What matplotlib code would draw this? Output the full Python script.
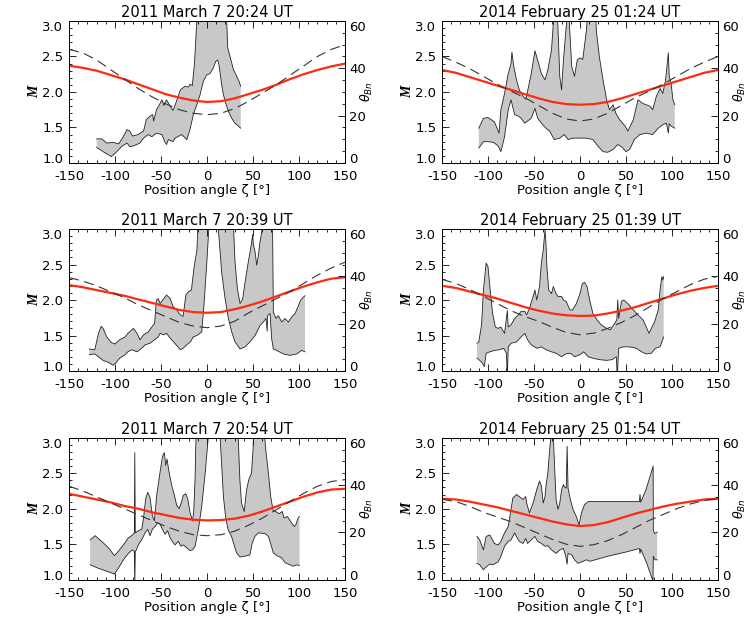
import numpy as np
import matplotlib
matplotlib.use("Agg")
import matplotlib.pyplot as plt
from matplotlib.ticker import MultipleLocator

plt.rcParams['axes.unicode_minus'] = False

# position angle grid of the model curves (deg)
zeta_grid = [-150, -135, -120, -105, -90, -75, -60, -45, -30, -15, 0,
             15, 30, 45, 60, 75, 90, 105, 120, 135, 150]

titles = ["2011 March 7 20:24 UT", "2014 February 25 01:24 UT",
          "2011 March 7 20:39 UT", "2014 February 25 01:39 UT",
          "2011 March 7 20:54 UT", "2014 February 25 01:54 UT"]

# ---- 2011 March 7 20:24 ----
p1_red = [2.37, 2.34, 2.30, 2.24, 2.18, 2.11, 2.04, 1.97, 1.92, 1.88, 1.86,
          1.87, 1.91, 1.97, 2.03, 2.10, 2.18, 2.25, 2.31, 2.36, 2.40]
p1_theta = [48, 46.5, 43.5, 39.5, 35.5, 31.5, 28, 25, 22.5, 21, 20.4,
            21, 23, 26, 29.5, 33, 37, 41, 45, 48, 50]
p1_upper = [(-120, 1.34), (-114.5, 1.34), (-109, 1.28), (-102, 1.29), (-96, 1.27),
            (-91, 1.37), (-87, 1.47), (-84, 1.45), (-81, 1.38), (-75, 1.40),
            (-69, 1.45), (-66, 1.61), (-62, 1.66), (-59, 1.68), (-58, 1.59),
            (-55, 1.75), (-51, 1.84), (-49, 1.89), (-47, 1.81), (-44, 1.89),
            (-40, 1.80), (-37, 1.74), (-34, 1.84), (-29, 2.03), (-24, 2.08),
            (-20, 2.07), (-18.5, 2.11), (-16, 2.09), (-13.8, 2.38), (-12.3, 2.71),
            (-11.2, 2.99), (-10, 3.3), (21, 3.3), (21.4, 3.0), (22.5, 2.62),
            (25, 2.50), (28.6, 2.32), (32.2, 2.22), (34.8, 2.15), (36.6, 2.08)]
p1_lower = [(-120, 1.22), (-113, 1.16), (-104, 1.09), (-98, 1.16), (-93, 1.23),
            (-87, 1.28), (-84, 1.23), (-80, 1.24), (-73, 1.28), (-69, 1.35),
            (-64, 1.40), (-60, 1.37), (-55, 1.42), (-49, 1.40), (-46, 1.30),
            (-44, 1.26), (-42, 1.33), (-37, 1.30), (-34.8, 1.35), (-27.5, 1.40),
            (-22, 1.33), (-18.5, 1.47), (-14.9, 1.68), (-11.2, 1.82), (-7.6, 1.96),
            (-4, 2.15), (-0.4, 2.24), (3.3, 2.26), (6.9, 2.34), (9.4, 2.43),
            (11.6, 2.45), (13, 2.38), (14.9, 2.20), (17, 2.01), (19.6, 1.87),
            (23.2, 1.73), (26.8, 1.63), (30.4, 1.56), (34, 1.52), (36.6, 1.49)]

# ---- 2014 February 25 01:24 ----
p2_red = [2.31, 2.27, 2.21, 2.15, 2.09, 2.03, 1.97, 1.91, 1.86, 1.83, 1.82,
          1.83, 1.86, 1.91, 1.97, 2.03, 2.09, 2.15, 2.21, 2.27, 2.31]
p2_theta = [45, 42.6, 39.9, 36.6, 33.3, 30.3, 27.6, 24.3, 21, 18.6, 17.7,
            18.6, 21, 24.3, 27.6, 30.3, 33.3, 36.6, 39.9, 42.6, 45]
p2_upper = [(-110, 1.49), (-105, 1.63), (-100, 1.64), (-93, 1.58), (-88, 1.42),
            (-86, 1.75), (-82, 1.98), (-78, 2.26), (-75, 2.40), (-74, 2.56),
            (-72, 2.36), (-69, 2.17), (-66, 2.03), (-62, 1.94), (-59, 1.90),
            (-57, 2.01), (-53, 2.26), (-49, 2.58), (-46, 2.45), (-42, 2.26),
            (-38, 2.17), (-35, 2.31), (-31, 2.59), (-29, 2.97), (-28, 3.3),
            (-26, 3.3), (-24, 2.92), (-22, 2.22), (-20, 2.03), (-18, 2.45),
            (-15, 2.92), (-13, 3.3), (-11, 2.83), (-9, 2.36), (-6, 2.22),
            (-3, 2.45), (0, 2.48), (3, 2.46), (7, 2.87), (9, 3.3), (16, 3.3),
            (18, 2.83), (21, 2.50), (25, 2.17), (29, 1.89), (32, 1.75),
            (36, 1.82), (39, 1.70), (43, 1.61), (49, 1.52), (52, 1.45),
            (58, 1.61), (63, 1.89), (68, 1.84), (76, 1.80), (79, 1.75),
            (83, 1.94), (87, 2.05), (90, 1.98), (93, 2.17), (96, 2.55),
            (97, 2.22), (99, 2.12), (101, 1.89), (103, 1.82)]
p2_lower = [(-110, 1.21), (-105, 1.30), (-100, 1.30), (-94, 1.29), (-89, 1.24),
            (-86, 1.16), (-82, 1.37), (-78, 1.75), (-75, 1.89), (-71, 1.68),
            (-67, 1.66), (-64, 1.63), (-60, 1.56), (-57, 1.59), (-53, 1.63),
            (-49, 1.77), (-46, 1.63), (-42, 1.56), (-37, 1.49), (-33, 1.45),
            (-28, 1.33), (-22, 1.35), (-17, 1.40), (-13, 1.33), (-8, 1.35),
            (0, 1.35), (7, 1.35), (14, 1.33), (20, 1.23), (25, 1.16), (30, 1.15),
            (36, 1.19), (41, 1.26), (45, 1.23), (50, 1.16), (54, 1.19),
            (59, 1.33), (65, 1.40), (72, 1.42), (79, 1.40), (85, 1.49),
            (90, 1.54), (94, 1.56), (96, 1.42), (97, 1.55), (99, 1.52), (103, 1.49)]

# ---- 2011 March 7 20:39 ----
p3_red = [2.21, 2.18, 2.14, 2.10, 2.06, 2.01, 1.96, 1.91, 1.86, 1.83, 1.82,
          1.83, 1.87, 1.92, 1.98, 2.05, 2.12, 2.19, 2.25, 2.30, 2.32]
p3_theta = [39.5, 38, 36, 33.5, 31, 28, 25.5, 23, 20.5, 19, 18.3,
            19, 21, 24.5, 27.5, 30.5, 33.5, 37, 40.5, 43.5, 46]
p3_upper = [(-128, 1.31), (-122, 1.30), (-118, 1.53), (-115, 1.63), (-113, 1.60),
            (-109, 1.48), (-104, 1.40), (-100, 1.38), (-95, 1.44), (-89, 1.48),
            (-86, 1.53), (-80, 1.60), (-76, 1.53), (-73, 1.44), (-69, 1.51),
            (-64, 1.55), (-60, 1.62), (-57, 1.67), (-55, 2.00), (-53, 2.02),
            (-51, 1.95), (-47, 2.02), (-44, 2.07), (-40, 2.02), (-37, 1.91),
            (-33, 1.86), (-29, 1.79), (-26, 1.77), (-23, 2.07), (-20, 2.12),
            (-17, 2.14), (-14, 2.47), (-11, 2.70), (-9, 3.3), (27.9, 3.3),
            (30.4, 2.54), (33, 2.16), (35.9, 1.95), (38.8, 2.02), (41.3, 2.25),
            (44.9, 2.54), (47.5, 2.73), (49.6, 2.92), (50.4, 2.78), (52.2, 2.68),
            (54, 2.49), (55.8, 2.63), (57.6, 2.82), (59.4, 2.95), (61.2, 3.3),
            (71, 3.3), (72.1, 1.83), (75, 1.74), (77.5, 1.78), (81.2, 1.69),
            (84.8, 1.74), (88.4, 1.69), (92, 1.76), (95.7, 1.81), (99.3, 1.92),
            (101.8, 2.00), (104.7, 2.04), (106.5, 2.06)]
p3_lower = [(-128, 1.23), (-122, 1.24), (-118, 1.20), (-113, 1.15), (-107, 1.12),
            (-102, 1.08), (-98, 1.13), (-95, 1.18), (-89, 1.23), (-86, 1.27),
            (-82, 1.30), (-76, 1.27), (-71, 1.32), (-67, 1.37), (-62, 1.39),
            (-57, 1.44), (-53, 1.48), (-51, 1.53), (-47, 1.51), (-44, 1.53),
            (-40, 1.46), (-35, 1.39), (-29, 1.30), (-26, 1.32), (-22, 1.37),
            (-18, 1.41), (-15, 1.48), (-11, 1.50), (-5.8, 1.55), (-3.3, 1.93),
            (-0.4, 2.49), (3.3, 3.3), (10.5, 3.3), (15.9, 2.39), (19.6, 2.02),
            (23.2, 1.74), (26.8, 1.55), (30.4, 1.41), (35.9, 1.31), (41.3, 1.34),
            (46.7, 1.41), (52.2, 1.50), (57.6, 1.64), (61.2, 1.69), (64.1, 1.74),
            (65.4, 1.56), (65.8, 1.78), (68.5, 1.81), (70.3, 1.45), (72.1, 1.31),
            (75.7, 1.29), (83, 1.24), (90.2, 1.22), (97.5, 1.24), (102.9, 1.29),
            (106.5, 1.27)]

# ---- 2014 February 25 01:39 ----
p4_red = [2.20, 2.17, 2.12, 2.07, 2.02, 1.96, 1.90, 1.85, 1.81, 1.785, 1.775,
          1.78, 1.81, 1.85, 1.90, 1.96, 2.02, 2.08, 2.13, 2.17, 2.20]
p4_theta = [38.7, 37, 34.5, 31.5, 28.5, 25.5, 23, 21, 18.5, 16.3, 15.3,
            16, 18, 20.5, 23.5, 27, 30.5, 33.5, 36.5, 38.8, 40]
p4_upper = [(-112, 1.39), (-110, 1.41), (-107, 1.65), (-105, 2.14), (-102, 2.52),
            (-100, 2.47), (-98, 2.19), (-95, 1.81), (-92, 1.62), (-89, 1.60),
            (-86, 1.62), (-82, 1.53), (-79, 1.85), (-78, 1.62), (-75, 1.65),
            (-71, 1.74), (-67, 1.79), (-64, 1.84), (-60, 1.84), (-58, 1.79),
            (-55, 1.88), (-51, 2.05), (-49, 2.14), (-47, 2.00), (-44, 2.19),
            (-42, 2.52), (-40, 2.70), (-38, 2.99), (-37, 2.80), (-36, 2.47),
            (-34, 2.14), (-31, 2.09), (-29, 2.19), (-26, 2.09), (-24, 2.05),
            (-20, 2.05), (-18, 2.00), (-15, 1.98), (-11, 1.86), (-8, 1.86),
            (-4, 1.95), (0, 2.09), (2.5, 2.23), (5, 2.25), (7.6, 2.19),
            (10.5, 2.00), (14, 1.81), (18.5, 1.72), (23, 1.65), (29, 1.60),
            (33, 1.58), (36.6, 1.65), (40, 1.72), (41, 2.00), (42, 1.74),
            (45, 1.98), (47.5, 2.00), (52, 1.95), (58, 1.86), (63, 1.79),
            (68.5, 1.72), (72, 1.62), (75, 1.53), (77.5, 1.60), (81, 1.69),
            (85, 1.86), (87, 2.14), (89, 2.33), (90, 2.28), (91, 2.33)]
p4_lower = [(-112, 1.18), (-109, 1.15), (-106, 1.11), (-104, 1.06), (-102, 1.25),
            (-98, 1.27), (-93, 1.29), (-87, 1.30), (-83, 1.32), (-80, 1.25),
            (-79, 0.9), (-78, 1.34), (-75, 1.39), (-69, 1.41), (-64, 1.48),
            (-60, 1.53), (-57, 1.44), (-53, 1.37), (-47, 1.32), (-42, 1.34),
            (-37, 1.30), (-31, 1.27), (-26, 1.25), (-20, 1.20), (-17, 1.23),
            (-13, 1.25), (-9, 1.24), (-6, 1.20), (0, 1.23), (4, 1.27), (9, 1.20),
            (14, 1.18), (21, 1.16), (29, 1.15), (35, 1.16), (39.5, 1.20),
            (40.5, 0.9), (42, 1.32), (47, 1.34), (54, 1.34), (61, 1.32),
            (67, 1.27), (72, 1.24), (77.5, 1.25), (82, 1.32), (87, 1.34), (91, 1.48)]

# ---- 2011 March 7 20:54 ----
p5_red = [2.21, 2.17, 2.13, 2.09, 2.04, 2.00, 1.95, 1.91, 1.87, 1.845, 1.835,
          1.84, 1.86, 1.90, 1.96, 2.03, 2.10, 2.17, 2.23, 2.27, 2.28]
p5_theta = [39.5, 37.5, 35, 32.5, 30, 27.5, 25, 22.5, 20.5, 19, 18.6,
            19, 20.5, 23, 26, 29.5, 33, 36.5, 39.5, 41.5, 42.3]
p5_upper = [(-127, 1.56), (-121.7, 1.62), (-114.5, 1.54), (-107.2, 1.45), (-100.7, 1.34),
            (-96.4, 1.40), (-90.9, 1.49), (-85.5, 1.59), (-81.9, 1.62), (-79, 1.66),
            (-78.5, 2.79), (-78, 1.66), (-74.6, 1.69), (-71, 1.71), (-69.2, 1.85),
            (-66.7, 2.14), (-64.5, 2.23), (-62, 2.16), (-59.4, 1.90), (-57.2, 1.83),
            (-54.7, 2.19), (-51, 2.52), (-48.5, 2.73), (-46.4, 2.79), (-44.9, 2.61),
            (-43.5, 2.70), (-41.3, 2.52), (-38.4, 2.33), (-35.5, 2.19), (-33, 2.05),
            (-30.4, 2.00), (-28.3, 2.07), (-25.7, 2.19), (-23.2, 2.21), (-21, 2.14),
            (-18.5, 1.95), (-15.9, 1.83), (-14.5, 1.95), (-13, 2.42), (-12.3, 2.85),
            (-11.2, 3.3), (33, 3.3), (35.7, 2.41), (37.5, 2.08), (40.4, 1.96),
            (42.9, 2.26), (45.4, 2.41), (48.3, 2.50), (50, 2.83), (51.2, 3.3),
            (60.9, 3.3), (63.8, 2.83), (66.3, 2.55), (69.2, 2.17), (71.7, 1.98),
            (74.6, 1.96), (78.2, 1.93), (81.8, 1.96), (83.7, 1.87), (87.3, 1.89),
            (90.9, 1.82), (94.6, 1.75), (96.4, 1.77), (99, 1.87), (100.5, 1.89)]
p5_lower = [(-127, 1.21), (-118, 1.16), (-109, 1.12), (-100.7, 1.08), (-96.4, 1.16),
            (-90.9, 1.28), (-85.5, 1.37), (-81.2, 1.42), (-79, 1.40), (-78.5, 0.9),
            (-78, 1.40), (-77.2, 1.41), (-73.9, 1.51), (-71, 1.56), (-67.4, 1.66),
            (-64.5, 1.71), (-62, 1.62), (-59.4, 1.71), (-56.5, 1.75), (-53.6, 1.80),
            (-51, 1.78), (-48.5, 1.71), (-45.7, 1.64), (-42.8, 1.69), (-40.2, 1.59),
            (-37.7, 1.54), (-34.8, 1.49), (-31.2, 1.54), (-28.3, 1.47), (-25.7, 1.49),
            (-22.1, 1.45), (-18.5, 1.41), (-15.9, 1.42), (-13, 1.47), (-9.4, 1.71),
            (-5.8, 2.03), (-2, 2.50), (3.3, 3.3), (13, 3.3), (17.8, 2.17),
            (20.3, 1.87), (23, 1.70), (26.6, 1.61), (32, 1.38), (35.7, 1.32),
            (41, 1.33), (46.6, 1.35), (49, 1.51), (52, 1.61), (55.8, 1.66),
            (63, 1.65), (66.7, 1.61), (69.6, 1.49), (72, 1.38), (75.7, 1.34),
            (81, 1.31), (84.8, 1.24), (90, 1.21), (93.8, 1.19), (97.5, 1.21), (100.5, 1.20)]

# ---- 2014 February 25 01:54 ----
p6_red = [2.14, 2.13, 2.10, 2.06, 2.02, 1.97, 1.92, 1.87, 1.82, 1.78, 1.755,
          1.77, 1.81, 1.87, 1.93, 1.98, 2.03, 2.07, 2.10, 2.13, 2.14]
p6_theta = [34, 33, 31, 28.5, 26.5, 24.5, 22, 19.5, 17, 15, 14.1,
            14.8, 16.5, 19, 22, 25, 27.5, 30, 32, 33.5, 34.2]
p6_upper = [(-112, 1.61), (-109, 1.56), (-105, 1.42), (-102, 1.61), (-98, 1.63),
            (-95, 1.56), (-93, 1.51), (-89, 1.49), (-86, 1.54), (-82, 1.66),
            (-78, 1.75), (-75, 1.99), (-73, 2.15), (-69, 2.20), (-66, 2.17),
            (-62, 2.13), (-59, 2.17), (-58, 2.08), (-55, 1.94), (-51, 2.08),
            (-47, 2.27), (-44, 2.39), (-42, 2.32), (-40, 2.08), (-38, 2.17),
            (-37, 2.32), (-35, 2.50), (-33, 2.83), (-31, 3.1), (-29, 3.02),
            (-27.5, 2.55), (-26, 2.13), (-24, 1.99), (-22, 2.08), (-20, 2.27),
            (-18, 2.34), (-17, 2.31), (-15, 2.29), (-14, 2.88), (-13, 2.29),
            (-10.5, 2.13), (-7.6, 1.99), (-4, 1.89), (-1, 1.77), (1.5, 1.94),
            (5, 2.06), (9, 2.10), (12, 2.10), (30, 2.10), (64.5, 2.10),
            (65.2, 2.20), (66, 2.09), (72, 2.28), (79.5, 2.60), (79.7, 1.70),
            (81, 1.65), (83.9, 1.67)]
p6_lower = [(-112, 1.23), (-109, 1.21), (-105, 1.14), (-102, 1.18), (-98, 1.22),
            (-95, 1.21), (-89, 1.25), (-86, 1.33), (-82, 1.47), (-78, 1.54),
            (-75, 1.56), (-71, 1.66), (-68, 1.58), (-66, 1.54), (-62, 1.51),
            (-59, 1.58), (-57, 1.51), (-53, 1.56), (-49, 1.61), (-46, 1.54),
            (-42, 1.51), (-38, 1.47), (-35, 1.48), (-31, 1.42), (-26, 1.37),
            (-22, 1.42), (-18, 1.44), (-15.5, 1.33), (-14, 1.22), (-13, 1.37),
            (-9, 1.35), (-6, 1.28), (-2, 1.23), (1.5, 1.25), (7, 1.28),
            (10.9, 1.26), (30, 1.33), (50, 1.39), (64.5, 1.44), (65.2, 1.37),
            (66, 1.43), (72, 1.25), (79.3, 0.98), (79.7, 1.33), (81.5, 1.28),
            (83.9, 1.28)]

panels = [(p1_red, p1_theta, p1_upper, p1_lower),
          (p2_red, p2_theta, p2_upper, p2_lower),
          (p3_red, p3_theta, p3_upper, p3_lower),
          (p4_red, p4_theta, p4_upper, p4_lower),
          (p5_red, p5_theta, p5_upper, p5_lower),
          (p6_red, p6_theta, p6_upper, p6_lower)]

fig = plt.figure(figsize=(7.47, 6.23), dpi=100)
lefts = [0.0924, 0.5917]
bottoms = [0.7384, 0.4045, 0.0695]
width, height = 0.3695, 0.2279

axes_pairs = []
for i, (red, theta, upper, lower) in enumerate(panels):
    row, col = divmod(i, 2)
    ax = fig.add_axes([lefts[col], bottoms[row], width, height])

    ux, uy = np.array(upper).T
    lx, ly = np.array(lower).T
    ax.fill(np.concatenate([ux, lx[::-1]]), np.concatenate([uy, ly[::-1]]),
            color='#c8c8c8', lw=0, zorder=1)
    ax.plot(ux, uy, color='#222222', lw=0.6, zorder=2)
    ax.plot(lx, ly, color='#222222', lw=0.6, zorder=2)
    ax.plot(zeta_grid, red, color='#ff2a10', lw=1.6, zorder=5)

    ax.set_xlim(-150, 150)
    ax.set_ylim(1.0, 3.0)
    ax.xaxis.set_major_locator(MultipleLocator(50))
    ax.xaxis.set_minor_locator(MultipleLocator(10))
    ax.yaxis.set_major_locator(MultipleLocator(0.5))
    ax.yaxis.set_minor_locator(MultipleLocator(0.1))
    ax.yaxis.set_major_formatter(plt.FormatStrFormatter('%.1f'))
    ax.tick_params(which='both', direction='in', top=True, right=False,
                   labelsize=9.5, width=0.6)
    ax.tick_params(which='major', length=5, pad=4)
    ax.tick_params(axis='x', which='major', pad=5)
    ax.tick_params(which='minor', length=2.5)
    for s in ax.spines.values():
        s.set_linewidth(0.7)

    ax.set_title(titles[i], fontsize=10.5, pad=3)
    ax.set_xlabel('Position angle ζ [°]', fontsize=9.5, labelpad=1)
    ax.set_ylabel('M', family='Liberation Serif', style='italic',
                  weight='bold', fontsize=10)
    ax.yaxis.set_label_coords(-0.1, 0.5)

    ax2 = ax.twinx()
    ax2.plot(zeta_grid, theta, color='#333333', lw=0.8, ls=(0, (9, 5)))
    ax2.set_ylim(0, 60)
    ax2.yaxis.set_major_locator(MultipleLocator(20))
    ax2.yaxis.set_minor_locator(MultipleLocator(5))
    ax2.tick_params(which='both', direction='in', labelsize=9.5, width=0.6)
    ax2.tick_params(which='major', length=5, pad=3)
    ax2.tick_params(which='minor', length=2.5)
    ax2.set_ylabel(r'$\theta_{Bn}$', fontsize=9)
    ax2.yaxis.set_label_coords(1.05, 0.5)
    for s in ax2.spines.values():
        s.set_linewidth(0.7)
    axes_pairs.append((ax, ax2))

# end labels sit inside the axis range, as in the original
fig.canvas.draw()
for ax, ax2 in axes_pairs:
    for a, lo, hi in ((ax, 1.0, 3.0), (ax2, 0, 60)):
        for tick in a.yaxis.get_major_ticks():
            loc = tick.get_loc()
            if abs(loc - lo) < 1e-6:
                tick.label1.set_va('baseline')
                tick.label2.set_va('baseline')
            elif abs(loc - hi) < 1e-6:
                tick.label1.set_va('top')
                tick.label2.set_va('top')

fig.savefig('out.png', dpi=100)
